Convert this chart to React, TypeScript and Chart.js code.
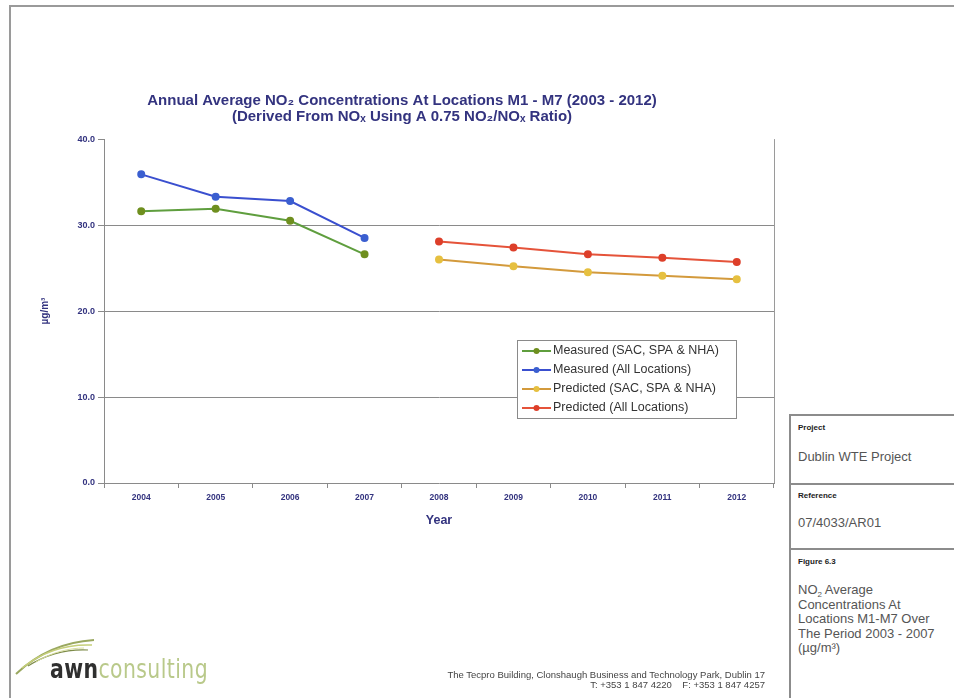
import React, { useEffect, useRef } from "react";
import { Chart, registerables } from "chart.js";

Chart.register(...registerables);

const years = ["2004", "2005", "2006", "2007", "2008", "2009", "2010", "2011", "2012"];
const measuredSac = [31.6, 31.9, 30.5, 26.6, null, null, null, null, null];
const measuredAll = [35.9, 33.3, 32.8, 28.5, null, null, null, null, null];
const predictedSac = [null, null, null, null, 26.0, 25.2, 24.5, 24.1, 23.7];
const predictedAll = [null, null, null, null, 28.1, 27.4, 26.6, 26.2, 25.7];
const seriesNames = [
  "Measured (SAC, SPA & NHA)",
  "Measured (All Locations)",
  "Predicted (SAC, SPA & NHA)",
  "Predicted (All Locations)",
];
const titleLines = [
  "Annual Average NO\u2082 Concentrations At Locations M1 - M7 (2003 - 2012)",
  "(Derived From NO\u2093 Using A 0.75 NO\u2082/NO\u2093 Ratio)",
];

const FONT = "'Liberation Sans', Arial, sans-serif";
const NAVY = "#33337f";

const legendPlugin = {
  id: "boxLegend",
  afterDraw(chart: any) {
    const ctx = chart.ctx;
    const x = 517, y = 340, w = 219, h = 78;
    ctx.save();
    ctx.fillStyle = "#ffffff";
    ctx.fillRect(x, y, w, h);
    ctx.strokeStyle = "#8a8a8a";
    ctx.lineWidth = 1;
    ctx.strokeRect(x + 0.5, y + 0.5, w, h);
    chart.data.datasets.forEach((ds: any, i: number) => {
      const ry = y + 11 + i * 19;
      ctx.strokeStyle = ds.borderColor;
      ctx.lineWidth = 2;
      ctx.beginPath();
      ctx.moveTo(x + 5, ry);
      ctx.lineTo(x + 34, ry);
      ctx.stroke();
      ctx.fillStyle = ds.pointBackgroundColor;
      ctx.beginPath();
      ctx.arc(x + 19.5, ry, 3, 0, Math.PI * 2);
      ctx.fill();
      ctx.fillStyle = "#333333";
      ctx.font = `12.5px ${FONT}`;
      ctx.textBaseline = "middle";
      ctx.textAlign = "left";
      ctx.fillText(ds.label, x + 36, ry);
    });
    ctx.restore();
  },
};

const framePlugin = {
  id: "plotFrame",
  beforeDatasetsDraw(chart: any) {
    const { ctx, chartArea } = chart;
    ctx.save();
    ctx.strokeStyle = "#9a9a9a";
    ctx.lineWidth = 1;
    ctx.beginPath();
    ctx.moveTo(Math.round(chartArea.right) + 0.5, chartArea.top);
    ctx.lineTo(Math.round(chartArea.right) + 0.5, chartArea.bottom);
    ctx.stroke();
    ctx.restore();
  },
};

function ChartCanvas() {
  const ref = useRef<HTMLCanvasElement | null>(null);
  useEffect(() => {
    if (!ref.current) return;
    const mk = (label: string, data: any[], line: string, pt: string) => ({
      label,
      data,
      borderColor: line,
      backgroundColor: line,
      pointBackgroundColor: pt,
      pointBorderColor: pt,
      pointRadius: 3,
      pointHoverRadius: 3,
      borderWidth: 2,
      tension: 0,
      spanGaps: false,
    });
    const chart = new Chart(ref.current, {
      type: "line",
      data: {
        labels: years,
        datasets: [
          mk(seriesNames[0], measuredSac, "#5f9e3e", "#6f8f1f"),
          mk(seriesNames[1], measuredAll, "#3a4fcf", "#3b5fd0"),
          mk(seriesNames[2], predictedSac, "#d39a3c", "#e6c040"),
          mk(seriesNames[3], predictedAll, "#e5533a", "#dd3f2a"),
        ],
      },
      plugins: [framePlugin, legendPlugin],
      options: {
        responsive: false,
        animation: false,
        events: [],
        layout: { padding: { left: 30, right: 180, top: 93, bottom: 165 } },
        plugins: {
          legend: { display: false },
          tooltip: { enabled: false },
          title: {
            display: true,
            text: titleLines,
            color: NAVY,
            font: { family: FONT, size: 15, weight: "bold", lineHeight: 1.07 },
            padding: { top: 0, bottom: 14 },
          },
        },
        scales: {
          x: {
            type: "category",
            offset: true,
            afterFit: (s: any) => { s.height = 50; },
            grid: {
              offset: true,
              drawOnChartArea: false,
              tickLength: 5,
              tickColor: "#8a8a8a",
            },
            border: { display: true, color: "#8a8a8a", width: 1 },
            ticks: {
              color: NAVY,
              font: { family: FONT, size: 8.5, weight: "bold" },
              padding: 5,
              maxRotation: 0,
            },
            title: {
              display: true,
              text: "Year",
              color: NAVY,
              font: { family: FONT, size: 12.5, weight: "bold" },
              padding: { top: 0, bottom: 5 },
            },
          },
          y: {
            min: 0,
            max: 40,
            afterFit: (s: any) => { s.width = 74; },
            grid: {
              color: (c: any) => (c.tick && (c.tick.value === 40 || c.tick.value === 0) ? "rgba(0,0,0,0)" : "#8a8a8a"),
              tickColor: "#8a8a8a",
              tickLength: 6,
              lineWidth: 1,
            },
            border: { display: true, color: "#8a8a8a", width: 1 },
            ticks: {
              stepSize: 10,
              color: NAVY,
              font: { family: FONT, size: 9, weight: "bold" },
              padding: 3,
              callback: (v: any) => Number(v).toFixed(1),
            },
            title: {
              display: true,
              text: "\u00b5g/m\u00b3",
              color: NAVY,
              font: { family: FONT, size: 10, weight: "bold" },
              padding: { top: 9, bottom: 0 },
            },
          },
        },
      } as any,
    });
    return () => chart.destroy();
  }, []);
  return <canvas ref={ref} width={954} height={698} style={{ position: "absolute", left: 0, top: 0, width: 954, height: 698 }} />;
}

function InfoBox() {
  const label: React.CSSProperties = { fontFamily: FONT, fontSize: 8, fontWeight: "bold", color: "#222", position: "absolute", left: 7 };
  const val: React.CSSProperties = { fontFamily: FONT, fontSize: 13, color: "#555", position: "absolute", left: 7, lineHeight: "14.5px" };
  return (
    <div style={{ position: "absolute", left: 789, top: 414, width: 180, height: 300, border: "2px solid #8c8c8c", background: "#fff" }}>
      <div style={{ ...label, top: 7 }}>Project</div>
      <div style={{ ...val, top: 34 }}>Dublin WTE Project</div>
      <div style={{ position: "absolute", left: 0, top: 67, width: 180, height: 2, background: "#8c8c8c" }} />
      <div style={{ ...label, top: 75 }}>Reference</div>
      <div style={{ ...val, top: 100 }}>07/4033/AR01</div>
      <div style={{ position: "absolute", left: 0, top: 132, width: 180, height: 2, background: "#8c8c8c" }} />
      <div style={{ ...label, top: 141 }}>Figure 6.3</div>
      <div style={{ ...val, top: 167, width: 150 }}>
        NO<span style={{ fontSize: 8, position: "relative", top: 3, lineHeight: 0 }}>2</span> Average<br />Concentrations At<br />Locations M1-M7 Over<br />The Period 2003 - 2007<br />(µg/m³)
      </div>
    </div>
  );
}

function Logo() {
  return (
    <div style={{ position: "absolute", left: 12, top: 628, width: 220, height: 68 }}>
      <svg width={210} height={66} style={{ position: "absolute", left: 0, top: 0 }}>
        <path d="M4 46 C 25 26, 50 14, 82 12" stroke="#9aa860" strokeWidth={2} fill="none" />
        <path d="M10 40 C 30 24, 55 16, 80 17" stroke="#c6cf7a" strokeWidth={1.5} fill="none" />
        <path d="M16 38 C 35 26, 55 21, 76 22" stroke="#7e8c4a" strokeWidth={1.2} fill="none" />
        <path d="M24 34 C 40 24, 58 20, 72 20" stroke="#d9dfa0" strokeWidth={1} fill="none" />
      </svg>
      <div style={{ position: "absolute", left: 38, top: 25, fontFamily: "'DejaVu Sans Condensed', 'Liberation Sans Narrow', sans-serif", fontSize: 27, letterSpacing: 0.5, whiteSpace: "nowrap", transform: "scaleX(0.84)", transformOrigin: "left" }}>
        <span style={{ color: "#2f2f2f", fontWeight: "bold" }}>awn</span>
        <span style={{ color: "#b9c98a" }}>consulting</span>
      </div>
    </div>
  );
}

export default function App() {
  return (
    <div style={{ position: "absolute", left: 0, top: 0, width: 954, height: 698, overflow: "hidden", background: "#fff" }}>
      <div style={{ position: "absolute", left: 9, top: 5, width: 960, height: 2, background: "#9a9a9a" }} />
      <div style={{ position: "absolute", left: 9, top: 5, width: 2, height: 700, background: "#9a9a9a" }} />
      <ChartCanvas />
      <InfoBox />
      <Logo />
      <div style={{ position: "absolute", right: 189, top: 670, fontFamily: FONT, fontSize: 9.5, color: "#444", textAlign: "right", lineHeight: "10px", whiteSpace: "nowrap" }}>
        The Tecpro Building, Clonshaugh Business and Technology Park, Dublin 17<br />
        T: +353 1 847 4220 &nbsp;&nbsp; F: +353 1 847 4257
      </div>
    </div>
  );
}
